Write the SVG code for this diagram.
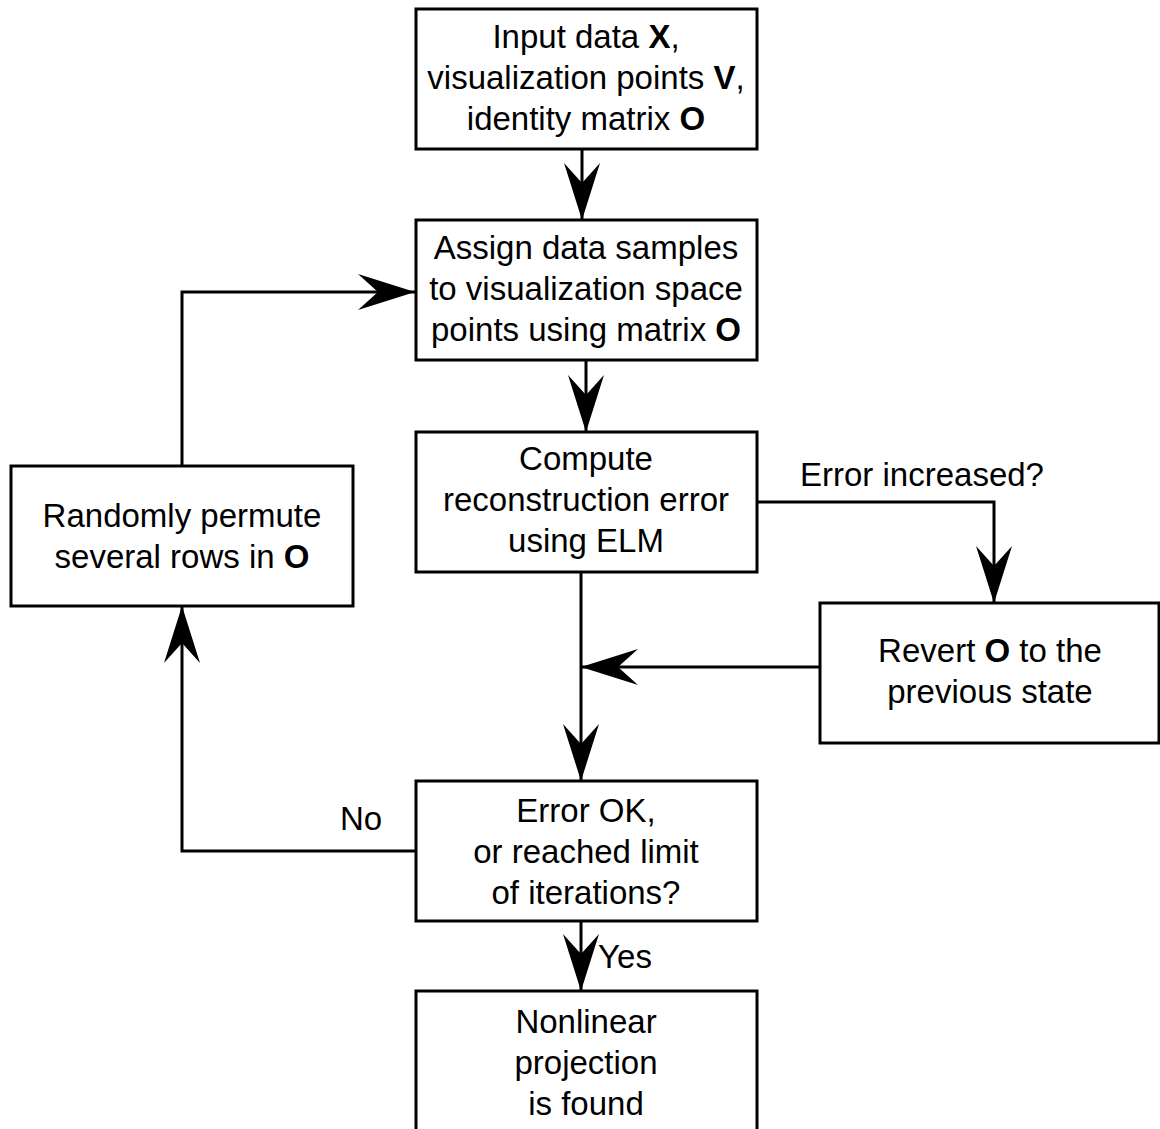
<svg xmlns="http://www.w3.org/2000/svg" width="1160" height="1129" viewBox="0 0 1160 1129">
  <style>
    .box { fill: #ffffff; stroke: #000000; stroke-width: 3; }
    .lbl { font-family: "Liberation Sans", Arial, sans-serif; font-size: 33px; fill: #000000; text-anchor: middle; }
    .edge { fill: none; stroke: #000000; stroke-width: 3; }
    .b { font-weight: bold; }
  </style>
  <defs>
    <marker id="arrow" viewBox="-57 -18 57 36" refX="0" refY="0" markerWidth="57" markerHeight="36" markerUnits="userSpaceOnUse" orient="auto">
      <path d="M0,0 L-57,-18 L-37,0 L-57,18 Z" fill="#000000"/>
    </marker>
  </defs>
  <rect width="1160" height="1129" fill="#ffffff"/>

  <g id="connectors">
    <line class="edge" x1="582" y1="149" x2="582" y2="220" marker-end="url(#arrow)"/>
    <line class="edge" x1="586" y1="360" x2="586" y2="432" marker-end="url(#arrow)"/>
    <polyline class="edge" points="757,502 994,502 994,603" marker-end="url(#arrow)"/>
    <line class="edge" x1="581" y1="572" x2="581" y2="781" marker-end="url(#arrow)"/>
    <line class="edge" x1="820" y1="667" x2="581" y2="667" marker-end="url(#arrow)"/>
    <polyline class="edge" points="415,851 182,851 182,606" marker-end="url(#arrow)"/>
    <polyline class="edge" points="182,466 182,292 415,292" marker-end="url(#arrow)"/>
    <line class="edge" x1="581" y1="921" x2="581" y2="991" marker-end="url(#arrow)"/>
    <text class="lbl" x="922" y="486">Error increased?</text>
    <text class="lbl" x="361" y="830">No</text>
    <text class="lbl" x="625" y="968">Yes</text>
  </g>

  <g id="input">
    <rect class="box" x="416" y="9" width="341" height="140"/>
    <text class="lbl" x="586" y="48">Input data <tspan class="b">X</tspan>,</text>
    <text class="lbl" x="586" y="89">visualization points <tspan class="b">V</tspan>,</text>
    <text class="lbl" x="586" y="130">identity matrix <tspan class="b">O</tspan></text>
  </g>

  <g id="assign">
    <rect class="box" x="416" y="220" width="341" height="140"/>
    <text class="lbl" x="586" y="259">Assign data samples</text>
    <text class="lbl" x="586" y="300">to visualization space</text>
    <text class="lbl" x="586" y="341">points using matrix <tspan class="b">O</tspan></text>
  </g>

  <g id="compute">
    <rect class="box" x="416" y="432" width="341" height="140"/>
    <text class="lbl" x="586" y="470">Compute</text>
    <text class="lbl" x="586" y="511">reconstruction error</text>
    <text class="lbl" x="586" y="552">using ELM</text>
  </g>

  <g id="permute">
    <rect class="box" x="11" y="466" width="342" height="140"/>
    <text class="lbl" x="182" y="527">Randomly permute</text>
    <text class="lbl" x="182" y="568">several rows in <tspan class="b">O</tspan></text>
  </g>

  <g id="revert">
    <rect class="box" x="820" y="603" width="339" height="140"/>
    <text class="lbl" x="990" y="662">Revert <tspan class="b">O</tspan> to the</text>
    <text class="lbl" x="990" y="703">previous state</text>
  </g>

  <g id="check">
    <rect class="box" x="416" y="781" width="341" height="140"/>
    <text class="lbl" x="586" y="822">Error OK,</text>
    <text class="lbl" x="586" y="863">or reached limit</text>
    <text class="lbl" x="586" y="904">of iterations?</text>
  </g>

  <g id="result">
    <rect class="box" x="416" y="991" width="341" height="150"/>
    <text class="lbl" x="586" y="1033">Nonlinear</text>
    <text class="lbl" x="586" y="1074">projection</text>
    <text class="lbl" x="586" y="1115">is found</text>
  </g>
</svg>
